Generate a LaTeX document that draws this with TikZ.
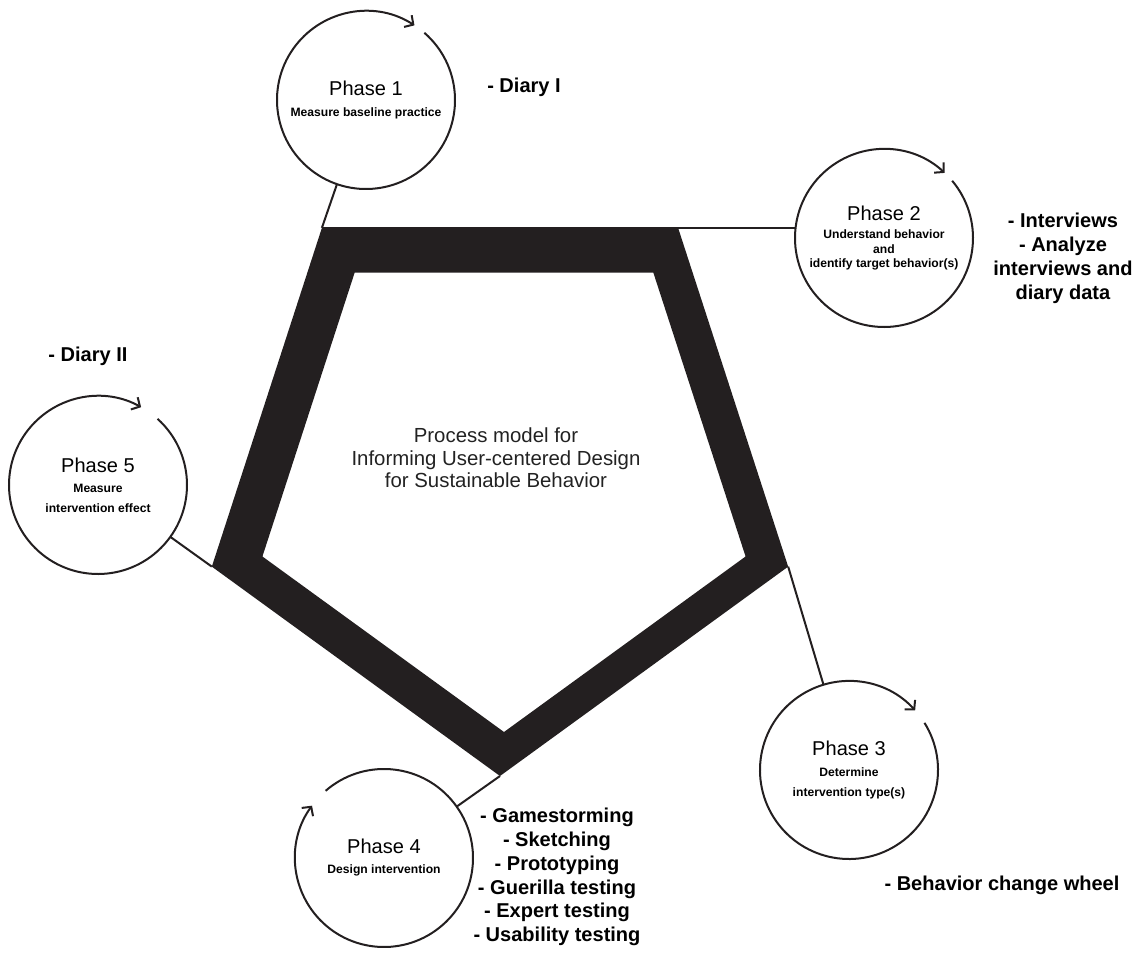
\documentclass[tikz,border=0pt]{standalone}
\usepackage{fontspec}
\setmainfont{Liberation Sans}
\usetikzlibrary{arrows.meta, calc}
\definecolor{ink}{RGB}{35,31,32}
\definecolor{textgrey}{RGB}{34,34,34}
\newcommand{\PhTitle}[1]{{\mdseries\fontsize{11.4}{13}\selectfont #1}}

\begin{document}
\begin{tikzpicture}[
  x=0.2mm, y=0.2mm,
  phase/.style={circle, minimum size=35.6mm, inner sep=0pt, outer sep=0pt,
                align=center, font=\fontsize{6.9}{11.4}\selectfont\bfseries},
  ring/.style={draw=ink, line width=0.4mm, -{Straight Barb[length=1.3mm, width=2.8mm]}},
  link/.style={draw=ink, line width=0.4mm},
  methods/.style={align=center, font=\fontsize{11.4}{13.6}\selectfont\bfseries},
  title/.style={align=center, text=textgrey, font=\fontsize{11.6}{12.8}\selectfont}
]
\useasboundingbox (0,0) rectangle (1138,-958);

% pentagon corners, outer and inner edge
\foreach \i/\a in {1/-90, 2/-18, 3/54, 4/126, 5/198} {
  \coordinate (o\i) at ($(500,-473)+(\a:303)$);
  \coordinate (i\i) at ($(504,-478)+(\a:254)$);
}

\node[phase] (ph1) at (366,-100) {\PhTitle{Phase 1}\\ Measure baseline practice};
\node[phase] (ph2) at (884,-238) {\PhTitle{Phase 2}\\[-1pt] Understand behavior\\[-3pt] and\\[-3pt] identify target behavior(s)};
\node[phase] (ph3) at (849,-770) {\PhTitle{Phase 3}\\ Determine\\ intervention type(s)};
\node[phase] (ph4) at (384,-858) {\PhTitle{Phase 4}\\ Design intervention};
\node[phase] (ph5) at (98,-485) {\PhTitle{Phase 5}\\ Measure\\ intervention effect};

\foreach \n/\s/\t in {ph1/49/57, ph2/40/47, ph3/32/42, ph4/131/144, ph5/48/61}
  \draw[ring] ([shift={(\s:17.8mm)}]\n.center) arc[start angle=\s, end angle=\t-360, radius=17.8mm];

\draw[link] (o4) -- (ph1);
\draw[link] (o4) -- (o4 -| ph2.west);
\draw[link] (o2) -- (ph3);
\draw[link] (o1) -- (ph4);
\draw[link] (o5) -- (ph5);

\fill[ink, even odd rule] (o1) -- (o2) -- (o3) -- (o4) -- (o5) -- cycle
  (i1) -- (i2) -- (i3) -- (i4) -- (i5) -- cycle;

\node[title] (model) at (496,-458) {Process model for\\ Informing User-centered Design\\ for Sustainable Behavior};

\node[methods] (m1) at (524,-87) {- Diary I};
\node[methods] (m2) at (1063,-258) {- Interviews\\ - Analyze\\ interviews and\\ diary data};
\node[methods] (m3) at (1002,-885) {- Behavior change wheel};
\node[methods] (m4) at (557,-877) {- Gamestorming\\ - Sketching\\ - Prototyping\\ - Guerilla testing\\ - Expert testing\\ - Usability testing};
\node[methods] (m5) at (88,-356) {- Diary II};

\end{tikzpicture}
\end{document}
